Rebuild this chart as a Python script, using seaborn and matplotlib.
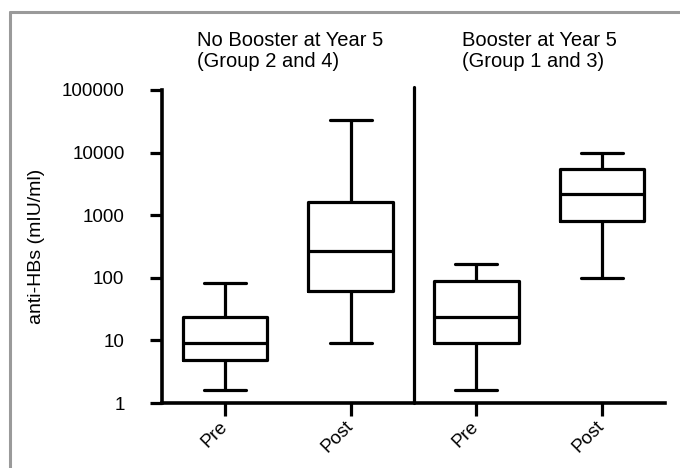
import numpy as np
import pandas as pd
import matplotlib
matplotlib.use("Agg")
import matplotlib.pyplot as plt
import seaborn as sns
from matplotlib.lines import Line2D
from matplotlib.ticker import FixedLocator, FixedFormatter, NullLocator

# five-number summaries (min, q1, median, q3, max)
groups = ["nb_pre", "nb_post", "b_pre", "b_post"]
tick_labels = ["Pre", "Post", "Pre", "Post"]
nb_pre = [1.6, 4.9, 9.0, 23.5, 82]
nb_post = [9.0, 62, 270, 1650, 33000]
b_pre = [1.6, 9.2, 24, 90, 165]
b_post = [98, 810, 2200, 5500, 10000]
panel_titles = ["No Booster at Year 5\n(Group 2 and 4)", "Booster at Year 5\n(Group 1 and 3)"]
y_ticks = [1, 10, 100, 1000, 10000, 100000]

df = pd.DataFrame({
    "group": np.repeat(groups, 5),
    "titer": nb_pre + nb_post + b_pre + b_post,
})

sns.set_style("white")
plt.rcParams["font.family"] = ["Liberation Sans", "DejaVu Sans"]
plt.rcParams.update({"text.color": "black", "axes.labelcolor": "black",
                     "xtick.color": "black", "ytick.color": "black"})

fig = plt.figure(figsize=(6.8, 4.68), dpi=100)
ax = fig.add_axes([162 / 680, 65 / 468, 503 / 680, 313 / 468])

lw = 2.3
sns.boxplot(data=df, x="group", y="titer", order=groups, log_scale=True,
            whis=(0, 100), width=0.67, fill=False, color="black",
            linewidth=lw, ax=ax)

ax.set_xlim(-0.5, 3.5)
ax.set_ylim(1, 100000)
ax.yaxis.set_major_locator(FixedLocator(y_ticks))
ax.yaxis.set_major_formatter(FixedFormatter([str(t) for t in y_ticks]))
ax.yaxis.set_minor_locator(NullLocator())
ax.set_xticks(range(len(groups)))
ax.set_xticklabels(tick_labels, rotation=45, ha="right", va="center",
                   rotation_mode="anchor", fontsize=13.5)
ax.tick_params(axis="y", labelsize=13.5, pad=18)
ax.tick_params(axis="both", which="major", direction="out", length=9,
               width=lw, color="black", left=True, bottom=True)
ax.tick_params(axis="x", pad=6)

for side in ["top", "right"]:
    ax.spines[side].set_visible(False)
for side in ["left", "bottom"]:
    ax.spines[side].set_linewidth(lw + 0.3)
    ax.spines[side].set_color("black")

# divider between the two panels
ax.axvline(1.5, ymin=0, ymax=1.01, color="black", lw=lw, clip_on=False)

ax.set_xlabel("")
ax.set_ylabel("anti-HBs (mIU/ml)", fontsize=14, va="center")
ax.yaxis.set_label_coords(-0.25, 0.5)

fig.text(197 / 680, 1 - 31 / 468, panel_titles[0], fontsize=14.5, va="top", ha="left",
         linespacing=1.15)
fig.text(462 / 680, 1 - 31 / 468, panel_titles[1], fontsize=14.5, va="top", ha="left",
         linespacing=1.15)

# grey frame from the source figure
fig.add_artist(Line2D([10 / 680, 10 / 680], [0, 1 - 12 / 468], transform=fig.transFigure,
                      color="#9a9a9a", lw=2.2))
fig.add_artist(Line2D([10 / 680, 1], [1 - 12 / 468, 1 - 12 / 468], transform=fig.transFigure,
                      color="#9a9a9a", lw=2.2))

fig.savefig("out.png", dpi=100)
